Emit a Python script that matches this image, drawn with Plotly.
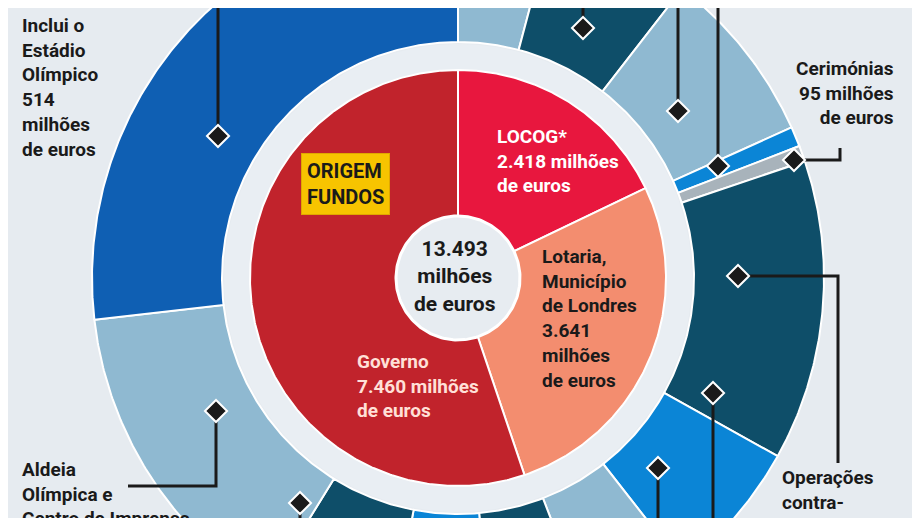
import numpy as np
import plotly.graph_objects as go

# Funding origin (inner pie), millions of euros
fund_labels = ["LOCOG*", "Lotaria, Município de Londres", "Governo"]
fund_values = [2418, 3641, 7460]
fund_colors = ["#e8173e", "#f38d6f", "#c1232c"]

# Spending (outer ring), millions of euros, clockwise from top (estimated)
spend_labels = ["A", "B", "C", "D", "Cerimónias", "Operações", "E", "F", "G", "H",
                "Aldeia Olímpica e Centro de Imprensa", "I", "Estádio e recintos"]
spend_values = [560, 860, 1050, 119, 95, 1795, 860, 635, 600, 600, 785, 1945, 3630]
spend_colors = ["#8fb9d1", "#0e4e69", "#8fb9d1", "#0b85d6", "#a8b3bb", "#0e4e69",
                "#0b85d6", "#8fb9d1", "#0e4e69", "#0b85d6", "#0e4e69", "#8fb9d1", "#0f5fb3"]
total_label = "13.493<br>milhões<br>de euros"

CX, CY = 450, 270
def P(px, py):
    return px - CX, CY - py

def wedge(a0, a1, r0, r1):
    t = np.linspace(a0, a1, max(8, int(abs(a1 - a0) * 2)))
    xo, yo = r1 * np.sin(np.radians(t)), r1 * np.cos(np.radians(t))
    xi, yi = r0 * np.sin(np.radians(t[::-1])), r0 * np.cos(np.radians(t[::-1]))
    return np.r_[xo, xi, xo[:1]], np.r_[yo, yi, yo[:1]]

fig = go.Figure()
def ring(values, colors, r0, r1, lw):
    tot = sum(values)
    a = 0.0
    for v, c in zip(values, colors):
        a1 = a + 360 * v / tot
        x, y = wedge(a, a1, r0, r1)
        fig.add_trace(go.Scatter(x=x, y=y, fill="toself", fillcolor=c, mode="lines",
                                 line=dict(color="white", width=lw), hoverinfo="skip", showlegend=False))
        a = a1

ring(spend_values, spend_colors, 236, 366, 2)
ring([1], ["#e9eef3"], 0, 234, 0)
ring(fund_values, fund_colors, 0, 208, 2)
ring([1], ["#e7ecf1"], 0, 62, 0)
t = np.linspace(0, 360, 200)
fig.add_trace(go.Scatter(x=62*np.sin(np.radians(t)), y=62*np.cos(np.radians(t)), mode="lines",
                         line=dict(color="white", width=3), hoverinfo="skip", showlegend=False))

# leader lines: first point is where the diamond sits
leaders = [
    [(210, 128), (210, -5)],
    [(575, 20), (575, -5)],
    [(670, 103), (670, -5)],
    [(710, 158), (710, -5)],
    [(786, 152), (832, 152), (832, 140)],
    [(730, 268), (830, 268), (830, 455)],
    [(705, 385), (705, 525)],
    [(650, 460), (650, 525)],
    [(292, 495), (292, 525)],
    [(208, 403), (208, 478), (120, 478)],
]
dx, dy = [], []
for L in leaders:
    pts = [P(*p) for p in L]
    fig.add_trace(go.Scatter(x=[p[0] for p in pts], y=[p[1] for p in pts], mode="lines",
                             line=dict(color="#1a1a1a", width=3), hoverinfo="skip", showlegend=False))
    dx.append(pts[0][0]); dy.append(pts[0][1])
fig.add_trace(go.Scatter(x=dx, y=dy, mode="markers", hoverinfo="skip", showlegend=False,
                         marker=dict(symbol="diamond", size=17, color="#1a1a1a",
                                     line=dict(color="white", width=2))))

F = "Roboto, Liberation Sans Narrow, sans-serif"
def txt(px, py, s, color="#1a1a1a", size=19, align="left", xanchor="left", **kw):
    x, y = P(px, py)
    fig.add_annotation(x=x, y=y, text=s, showarrow=False, xanchor=xanchor, yanchor="top",
                       align=align, font=dict(family=F, size=size, color=color), **kw)

B = lambda s: "<b>" + s + "</b>"
txt(12, 4, B("Inclui o<br>Estádio<br>Olímpico<br>514<br>milhões<br>de euros"))
txt(858, -14, B("119 milhões<br>de euros"), xanchor="right", align="left")
txt(888, 47, B("Cerimónias<br>95 milhões<br>de euros"), xanchor="right", align="right")
txt(12, 448, B("Aldeia<br>Olímpica e<br>Centro de Imprensa"))
txt(772, 456, B("Operações<br>contra-"))
txt(487, 115, B("LOCOG*<br>2.418 milhões<br>de euros"), color="white")
txt(532, 235, B("Lotaria,<br>Município<br>de Londres<br>3.641<br>milhões<br>de euros"))
txt(347, 340, B("Governo<br>7.460 milhões<br>de euros"), color="#ffe0d8")
txt(447, 227, B(total_label), size=21, xanchor="center", align="center")
txt(337, 145, B("ORIGEM<br>FUNDOS"), size=20, xanchor="center", align="left",
    bgcolor="#f7c400", bordercolor="#e0a800", borderwidth=1, borderpad=5)

fig.update_layout(width=920, height=518, margin=dict(l=0, r=0, t=0, b=0),
                  paper_bgcolor="#e6ebf0", plot_bgcolor="#e6ebf0",
                  xaxis=dict(range=[-450, 470], visible=False, fixedrange=True),
                  yaxis=dict(range=[-248, 270], visible=False, scaleanchor="x", scaleratio=1, fixedrange=True))
fig.write_html("out.html")
